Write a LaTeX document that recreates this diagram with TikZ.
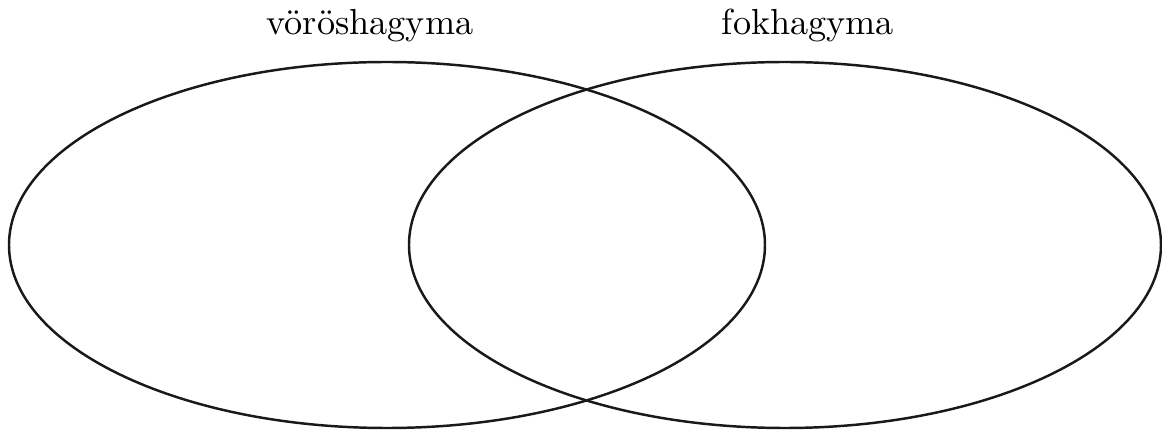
\documentclass[tikz,border=0pt]{standalone}
\usetikzlibrary{positioning}

\begin{document}
\begin{tikzpicture}[
  x=0.01cm, y=0.01cm,
  every node/.style={font=\fontsize{10.3}{13}\selectfont},
  setline/.style={draw=black!90, line width=0.7pt},
  setlabel/.style={anchor=base, inner sep=0pt},
]
\useasboundingbox (0,0) rectangle (1162,430);

% Sets
\draw[setline] (387,185) ellipse [x radius=378, y radius=183];
\draw[setline] (785,185) ellipse [x radius=376, y radius=183];

% Labels
\node[setlabel] (onion) at (370,395) {vöröshagyma};
\node[setlabel] (garlic) at (808,395) {fokhagyma};

\end{tikzpicture}
\end{document}
